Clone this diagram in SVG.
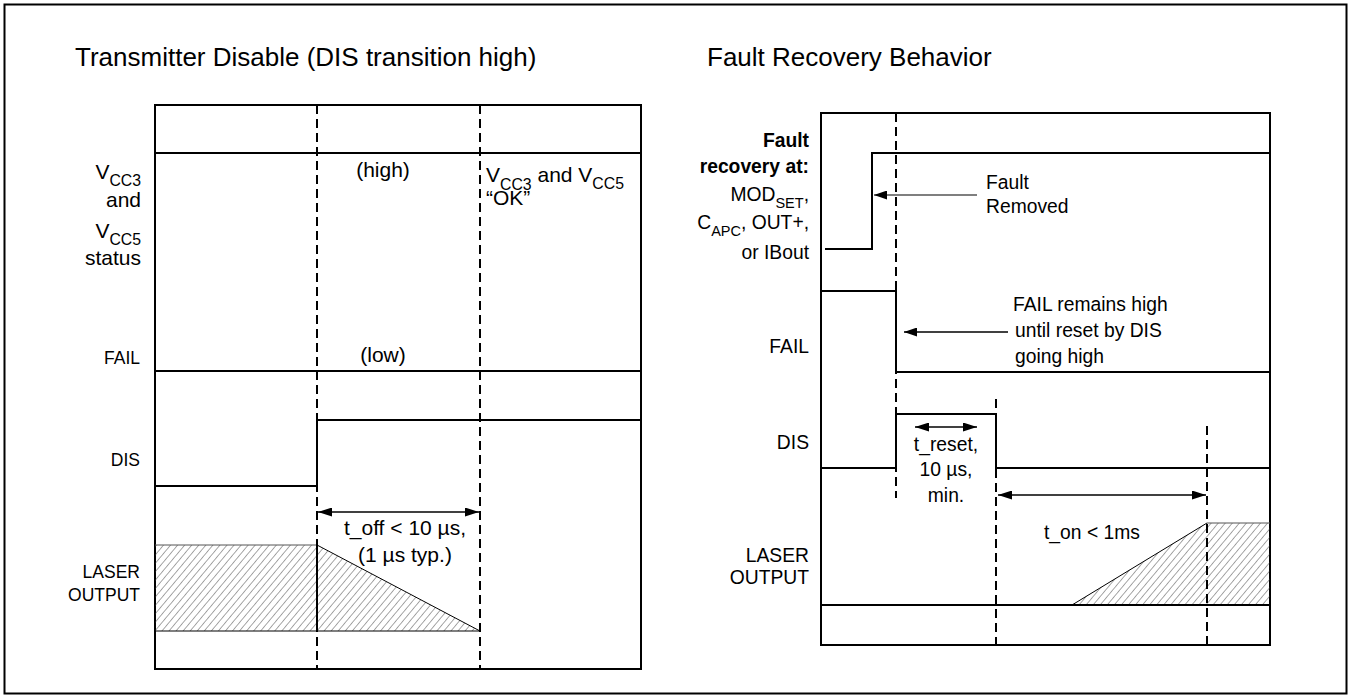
<svg xmlns="http://www.w3.org/2000/svg" width="1352" height="698" viewBox="0 0 1352 698">
<defs>
<style>
text{font-family:"Liberation Sans",Arial,sans-serif;fill:#000}
.t{font-size:26px}
.l1{font-size:21px}
.l2{font-size:17.5px}
.r{font-size:19.3px}
.e{text-anchor:end}
.m{text-anchor:middle}
.b{font-weight:bold}
.box{fill:none;stroke:#000;stroke-width:2}
.sig{fill:none;stroke:#000;stroke-width:2}
.dash{fill:none;stroke:#000;stroke-width:2;stroke-dasharray:9 5}
.thin{fill:none;stroke:#000;stroke-width:1}
.gthin{fill:none;stroke:#555;stroke-width:1}
.arr{fill:none;stroke:#000;stroke-width:1.5}
</style>
<marker id="ah" markerUnits="userSpaceOnUse" markerWidth="14" markerHeight="9" refX="14" refY="4.5" orient="auto-start-reverse"><path d="M0,0 L14,4.5 L0,9 z" fill="#000"/></marker>
<marker id="ahg" markerUnits="userSpaceOnUse" markerWidth="13" markerHeight="9" refX="13" refY="4.5" orient="auto"><path d="M0,0 L13,4.5 L0,9 z" fill="#000"/></marker>
<pattern id="hatch" patternUnits="userSpaceOnUse" width="5.4" height="10" patternTransform="rotate(40)"><line x1="0" y1="0" x2="0" y2="10" stroke="#333" stroke-width="0.9"/></pattern>
</defs>
<rect x="4.5" y="4.5" width="1342" height="689" fill="none" stroke="#000" stroke-width="2"/>

<g id="left-panel">
<text class="t" x="75" y="66">Transmitter Disable (DIS transition high)</text>
<rect class="box" x="155" y="105" width="486" height="564"/>
<line class="sig" x1="155" y1="153" x2="641" y2="153"/>
</g>

<g id="left-labels">
<text class="l1 e" x="141" y="179">V<tspan font-size="15.8" dy="7">CC3</tspan></text>
<text class="l1 e" x="141" y="207">and</text>
<text class="l1 e" x="141" y="238">V<tspan font-size="15.8" dy="7">CC5</tspan></text>
<text class="l1 e" x="141" y="265">status</text>
<text class="l2 e" x="140" y="364">FAIL</text>
<text class="l2 e" x="140" y="466">DIS</text>
<text class="l2 e" x="140" y="578">LASER</text>
<text class="l2 e" x="140" y="601">OUTPUT</text>
</g>

<g id="left-vcc">
<text class="l1 m" x="383" y="177">(high)</text>
<text class="l1" x="486" y="182">V<tspan font-size="15.8" dy="8">CC3</tspan><tspan dy="-8"> and V</tspan><tspan font-size="15.8" dy="7">CC5</tspan></text>
<text class="l1" x="486" y="205">“OK”</text>
</g>

<g id="left-fail">
<text class="l1 m" x="383" y="362">(low)</text>
<line class="sig" x1="155" y1="371" x2="641" y2="371"/>
</g>

<g id="left-dis">
<polyline class="sig" points="155,486 317,486 317,420 641,420"/>
</g>

<g id="left-laser">
<polygon points="155,545 317,545 480,631 155,631" fill="url(#hatch)"/>
<line class="gthin" x1="155" y1="545" x2="317" y2="545"/>
<line class="thin" x1="317" y1="545" x2="480" y2="631"/>
<line class="thin" x1="155" y1="631" x2="480" y2="631"/>
<line class="sig" x1="317" y1="545" x2="317" y2="631"/>
<text class="l1 m" x="405" y="535">t_off &lt; 10 µs,</text>
<text class="l1 m" x="405" y="562">(1 µs typ.)</text>
</g>

<g id="right-panel">
<text class="t" x="707" y="66">Fault Recovery Behavior</text>
<rect class="box" x="821" y="113" width="449" height="532"/>
</g>

<g id="right-fault">
<text class="r b e" x="809" y="147">Fault</text>
<text class="r b e" x="809" y="173">recovery at:</text>
<text class="r e" x="809" y="201">MOD<tspan font-size="14.5" dy="7">SET</tspan><tspan dy="-7">,</tspan></text>
<text class="r e" x="809" y="229">C<tspan font-size="14.5" dy="7">APC</tspan><tspan dy="-7">, OUT+,</tspan></text>
<text class="r e" x="809" y="259">or IBout</text>
<polyline class="sig" points="825,249 872,249 872,153 1270,153"/>
<text class="r" x="986" y="189">Fault</text>
<text class="r" x="986" y="213">Removed</text>
</g>

<g id="right-fail">
<text class="r e" x="809" y="353">FAIL</text>
<polyline class="sig" points="821,291 896,291 896,372 1270,372"/>
<text class="r" x="1013" y="311">FAIL remains high</text>
<text class="r" x="1015" y="337">until reset by DIS</text>
<text class="r" x="1015" y="363">going high</text>
</g>

<g id="right-dis">
<text class="r e" x="809" y="449">DIS</text>
<polyline class="sig" points="821,468 896,468 896,414 996,414 996,468 1270,468"/>
<text class="r m" x="946" y="451">t_reset,</text>
<text class="r m" x="946" y="476">10 µs,</text>
<text class="r m" x="946" y="502">min.</text>
</g>

<g id="right-laser">
<text class="r e" x="809" y="562">LASER</text>
<text class="r e" x="809" y="584">OUTPUT</text>
<polygon points="1072,605 1207,523 1270,523 1270,605" fill="url(#hatch)"/>
<line class="thin" x1="1072" y1="605" x2="1207" y2="523"/>
<line class="gthin" x1="1207" y1="523" x2="1270" y2="523"/>
<line class="sig" x1="821" y1="605" x2="1270" y2="605"/>
<text class="r" x="1044" y="539">t_on &lt; 1ms</text>
</g>

<g id="connectors">
<line class="dash" x1="317" y1="105" x2="317" y2="669"/>
<line class="dash" x1="480" y1="105" x2="480" y2="669"/>
<line class="dash" x1="896" y1="113" x2="896" y2="498"/>
<line class="dash" x1="996" y1="399" x2="996" y2="645"/>
<line class="dash" x1="1207" y1="426" x2="1207" y2="645"/>
<line class="arr" x1="318" y1="512" x2="479" y2="512" marker-start="url(#ah)" marker-end="url(#ah)"/>
<line class="arr" x1="915" y1="427" x2="977" y2="427" marker-start="url(#ah)" marker-end="url(#ah)"/>
<line class="arr" x1="998" y1="495" x2="1206" y2="495" marker-start="url(#ah)" marker-end="url(#ah)"/>
<line x1="977" y1="195" x2="874" y2="195" stroke="#555" stroke-width="1.5" marker-end="url(#ahg)"/>
<line class="arr" x1="1008" y1="332" x2="904" y2="332" marker-end="url(#ahg)"/>
</g>
</svg>
